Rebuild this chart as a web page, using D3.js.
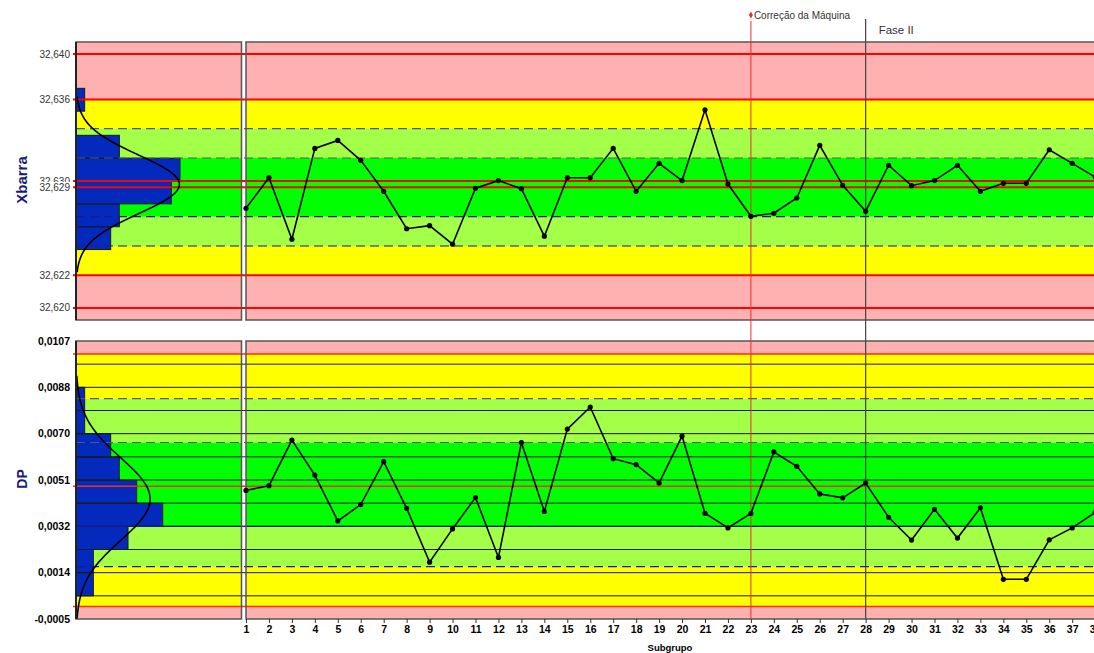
<!DOCTYPE html>
<html>
<head>
<meta charset="utf-8">
<script src="https://cdn.jsdelivr.net/npm/d3@7"></script>
<style>
  body { margin: 0; background: #fff; }
  svg { display: block; }
</style>
</head>
<body>
<svg id="chart" width="1094" height="653"></svg>
<script>
// ---- data -------------------------------------------------------------
const subgroups = [1,2,3,4,5,6,7,8,9,10,11,12,13,14,15,16,17,18,19,20,
                   21,22,23,24,25,26,27,28,29,30,31,32,33,34,35,36,37,38];

// subgroup means (Xbarra)
const xbarValues = [
  32.62785, 32.63026, 32.62541, 32.63257, 32.63320, 32.63163, 32.62919, 32.62624, 32.62648, 32.62502,
  32.62943, 32.63003, 32.62939, 32.62565, 32.63026, 32.63026, 32.63257, 32.62919, 32.63139, 32.63003,
  32.63561, 32.62976, 32.62722, 32.62746, 32.62866, 32.63281, 32.62966, 32.62761, 32.63124, 32.62963,
  32.63003, 32.63124, 32.62919, 32.62982, 32.62982, 32.63246, 32.63139, 32.63031
];

// subgroup standard deviations (DP)
const dpValues = [
  0.00468, 0.00487, 0.00671, 0.00530, 0.00345, 0.00411, 0.00584, 0.00396, 0.00179, 0.00313,
  0.00439, 0.00198, 0.00661, 0.00383, 0.00715, 0.00804, 0.00596, 0.00572, 0.00498, 0.00687,
  0.00376, 0.00317, 0.00375, 0.00623, 0.00565, 0.00454, 0.00438, 0.00498, 0.00360, 0.00268,
  0.00392, 0.00276, 0.00398, 0.00110, 0.00110, 0.00269, 0.00317, 0.00379
];

// control lines: LCL, -2s, -1s, CL, +1s, +2s, UCL
const xbarControl = [32.62257, 32.62488, 32.62719, 32.62950, 32.63181, 32.63412, 32.63643];
const dpControl   = [0.00000, 0.00161, 0.00323, 0.004845, 0.00661, 0.00838, 0.01018];

// specification lines (LIE, nominal, LSE)
const xbarSpec = [32.620, 32.630, 32.640];

// axis tick values (drawn in this order; later labels sit on top)
const xbarTicks = [32.620, 32.62257, 32.630, 32.6295, 32.63643, 32.640];
const dpTicks   = [-0.0005, 0.001367, 0.003233, 0.0051, 0.006967, 0.008833, 0.0107];

// histogram class limits
const xbarBins = [32.6246, 32.6264, 32.6282, 32.6300, 32.6318, 32.6336, 32.6355, 32.6373];
const dpBins   = [0.000433, 0.001367, 0.0023, 0.003233, 0.004167, 0.0051, 0.006033, 0.006967, 0.0079, 0.008833];
const dpGrid   = [0.000433, 0.001367, 0.0023, 0.003233, 0.004167, 0.0051, 0.006033, 0.006967, 0.0079, 0.008833, 0.009767];

// events marked on the timeline
const events = [
  { subgroup: 23, label: "Correção da Máquina", kind: "note" },
  { subgroup: 28, label: "Fase II", kind: "phase" }
];

// ---- layout -----------------------------------------------------------
const W = 1094, H = 653;
const histX0 = 76, histX1 = 241.5, mainX0 = 246, mainX1 = 1100;
const topP = { y0: 42, y1: 320 };
const botP = { y0: 341, y1: 619 };

const COL = {
  pink: "#FFB0B0", yellow: "#FFFF00", lgreen: "#A3FF47", green: "#00FF00",
  red: "#FF0000", navy: "#1A1A8C", gray: "#555A66", bar: "#0429BD", frame: "#555"
};
const FONT = "'Liberation Sans', Arial, sans-serif";

const svg = d3.select("#chart");

const x = d3.scaleLinear().domain([1, 38]).range([246, 246 + 37 * 22.95]);
const yTop = d3.scaleLinear().domain([32.61905, 32.64095]).range([topP.y1, topP.y0]);
const yBot = d3.scaleLinear().domain([-0.0005, 0.0107]).range([botP.y1, botP.y0]);
const xCount = d3.scaleLinear().domain([0, 19.15]).range([histX0, histX0 + 166]);

function floorFmt(v, d) {
  const m = Math.pow(10, d);
  const t = Math.floor(v * m + 1e-6) / m;
  return t.toFixed(d).replace(".", ",");
}

function panel(cfg) {
  const { y, P, values, ctrl, bins, grid, lineStyles, ticks, tickFmt, tickBold, tickColor, extraRed } = cfg;
  const g = svg.append("g");
  const [dMin, dMax] = y.domain();
  const edges = [dMin, ...ctrl, dMax];
  const bandColors = [COL.pink, COL.yellow, COL.lgreen, COL.green, COL.green, COL.lgreen, COL.yellow, COL.pink];
  const bands = d3.range(8).map(i => ({ a: edges[i], b: edges[i + 1], c: bandColors[i] }));
  const xRanges = [[histX0, histX1], [mainX0, mainX1]];

  // coloured zones
  xRanges.forEach(([xa, xb]) => {
    g.append("g").selectAll("rect").data(bands).join("rect")
      .attr("x", xa).attr("width", xb - xa)
      .attr("y", d => y(d.b)).attr("height", d => y(d.a) - y(d.b))
      .attr("fill", d => d.c);
  });

  // histogram
  const N = values.length;
  const hist = d3.range(bins.length - 1).map(i => ({
    a: bins[i], b: bins[i + 1],
    n: values.filter(v => v >= bins[i] && v < bins[i + 1]).length
  })).filter(d => d.n > 0);
  g.append("g").selectAll("rect").data(hist).join("rect")
    .attr("x", histX0).attr("width", d => xCount(d.n) - histX0)
    .attr("y", d => y(d.b)).attr("height", d => y(d.a) - y(d.b))
    .attr("fill", COL.bar).attr("stroke", "#1a1a1a").attr("stroke-width", 1);

  // horizontal grid
  if (grid) {
    g.append("g").selectAll("line").data(grid).join("line")
      .attr("x1", histX0).attr("x2", mainX1)
      .attr("y1", d => y(d)).attr("y2", d => y(d))
      .attr("stroke", "#1a1a1a").attr("stroke-width", 1);
  }

  // control lines
  ctrl.forEach((v, i) => {
    const s = lineStyles[i];
    g.append("line")
      .attr("x1", s.red ? 73 : histX0).attr("x2", mainX1)
      .attr("y1", y(v)).attr("y2", y(v))
      .attr("stroke", s.color).attr("stroke-width", s.w)
      .attr("stroke-dasharray", s.dash || null);
  });
  (extraRed || []).forEach(v => {
    g.append("line").attr("x1", 73).attr("x2", mainX1)
      .attr("y1", y(v)).attr("y2", y(v))
      .attr("stroke", COL.red).attr("stroke-width", 2);
  });

  // normal curve over the histogram
  const mean = d3.mean(values), sd = d3.deviation(values);
  const bw = (bins[bins.length - 1] - bins[0]) / (bins.length - 1);
  const pdf = v => Math.exp(-0.5 * ((v - mean) / sd) ** 2) / (sd * Math.sqrt(2 * Math.PI));
  const lo = Math.max(mean - 3 * sd, dMin), hi = Math.min(mean + 3 * sd, dMax);
  const curvePts = d3.range(0, 201).map(k => lo + (hi - lo) * k / 200);
  g.append("path").datum(curvePts)
    .attr("d", d3.line().x(v => xCount(N * bw * pdf(v))).y(v => y(v)).curve(d3.curveBasis))
    .attr("fill", "none").attr("stroke", "#000").attr("stroke-width", 1.6);

  // panel frames
  [[histX0, histX1], [mainX0, mainX1]].forEach(([xa, xb]) => {
    g.append("rect").attr("x", xa).attr("y", P.y0).attr("width", xb - xa).attr("height", P.y1 - P.y0)
      .attr("fill", "none").attr("stroke", COL.frame).attr("stroke-width", 1.5);
  });
  g.append("line").attr("x1", histX0).attr("x2", histX0).attr("y1", P.y0).attr("y2", P.y1)
    .attr("stroke", "#222").attr("stroke-width", 2);

  // y tick labels, each on a white plate so that close labels stack
  const tg = g.append("g");
  ticks.forEach(v => {
    const t = tg.append("g").attr("transform", `translate(70,${y(v)})`);
    const txt = t.append("text").attr("text-anchor", "end").attr("dy", "0.35em")
      .attr("font-family", FONT).attr("font-size", tickBold ? 10.5 : 10)
      .attr("font-weight", tickBold ? "bold" : "normal")
      .attr("fill", tickColor).text(tickFmt(v));
    const bb = txt.node().getBBox();
    t.insert("rect", "text").attr("x", bb.x - 1).attr("y", bb.y)
      .attr("width", bb.width + 2).attr("height", bb.height).attr("fill", "#fff");
  });
  return g;
}

const redStyle = { color: COL.red, w: 2, red: true };
const redThin = { color: "#FF2A10", w: 1.5, red: true };
const dashGray = { color: COL.gray, w: 1.2, dash: "9,5" };
const dashNavy = { color: COL.navy, w: 1.2, dash: "9,5" };
const solidNavy = { color: COL.navy, w: 1.2 };

panel({
  y: yTop, P: topP, values: xbarValues, ctrl: xbarControl, bins: xbarBins, grid: null,
  lineStyles: [redStyle, dashNavy, dashNavy, redStyle, dashGray, dashGray, redStyle],
  extraRed: xbarSpec,
  ticks: xbarTicks, tickFmt: v => floorFmt(v, 3), tickBold: false, tickColor: "#333"
});

panel({
  y: yBot, P: botP, values: dpValues, ctrl: dpControl, bins: dpBins, grid: dpGrid,
  lineStyles: [redThin, dashNavy, solidNavy, redThin, dashGray, dashGray, redThin],
  ticks: dpTicks, tickFmt: v => (v < 0 ? "-" : "") + Math.abs(v).toFixed(4).replace(".", ","),
  tickBold: true, tickColor: "#000"
});

// event markers across both panels
events.forEach(e => {
  const xe = x(e.subgroup);
  if (e.kind === "note") {
    svg.append("line").attr("x1", xe).attr("x2", xe).attr("y1", 21).attr("y2", botP.y1)
      .attr("stroke", "#E53030").attr("stroke-width", 1);
    svg.append("path").attr("d", d3.symbol(d3.symbolDiamond, 14)())
      .attr("transform", `translate(${xe},${15})`).attr("fill", "#E53030");
    svg.append("text").attr("x", xe + 3).attr("y", 19)
      .attr("font-family", FONT).attr("font-size", 10).attr("fill", "#333").text(e.label);
  } else {
    svg.append("line").attr("x1", xe).attr("x2", xe).attr("y1", 19).attr("y2", botP.y1)
      .attr("stroke", "#444").attr("stroke-width", 1.2);
    svg.append("text").attr("x", xe + 13).attr("y", 34)
      .attr("font-family", FONT).attr("font-size", 11.5).attr("fill", "#333").text(e.label);
  }
});

// data series
function series(y, values) {
  const pts = subgroups.map((s, i) => [s, values[i]]);
  const g = svg.append("g");
  g.append("path").datum(pts)
    .attr("d", d3.line().x(d => x(d[0])).y(d => y(d[1])))
    .attr("fill", "none").attr("stroke", "#000").attr("stroke-width", 1.6);
  g.selectAll("circle").data(pts).join("circle")
    .attr("cx", d => x(d[0])).attr("cy", d => y(d[1])).attr("r", 2.6).attr("fill", "#000");
}
series(yTop, xbarValues);
series(yBot, dpValues);

// x axis
const xAxis = d3.axisBottom(x).tickValues(subgroups).tickSize(4).tickPadding(3).tickFormat(d3.format("d"));
const xa = svg.append("g").attr("transform", `translate(0,${botP.y1})`).call(xAxis);
xa.select(".domain").remove();
xa.selectAll("line").attr("stroke", "#333");
xa.selectAll("text").attr("font-family", FONT).attr("font-size", 10.5)
  .attr("font-weight", "bold").attr("fill", "#000");

svg.append("text").attr("x", 670).attr("y", 651).attr("text-anchor", "middle")
  .attr("font-family", FONT).attr("font-size", 9.5).attr("font-weight", "bold")
  .attr("fill", "#000").text("Subgrupo");

// axis titles
svg.append("text").attr("transform", `translate(27,${180}) rotate(-90)`)
  .attr("text-anchor", "middle").attr("font-family", FONT).attr("font-size", 15)
  .attr("font-weight", "bold").attr("fill", "#1B1B7A").text("Xbarra");
svg.append("text").attr("transform", `translate(27,${479}) rotate(-90)`)
  .attr("text-anchor", "middle").attr("font-family", FONT).attr("font-size", 14)
  .attr("font-weight", "bold").attr("fill", "#1B1B7A").text("DP");
</script>
</body>
</html>
